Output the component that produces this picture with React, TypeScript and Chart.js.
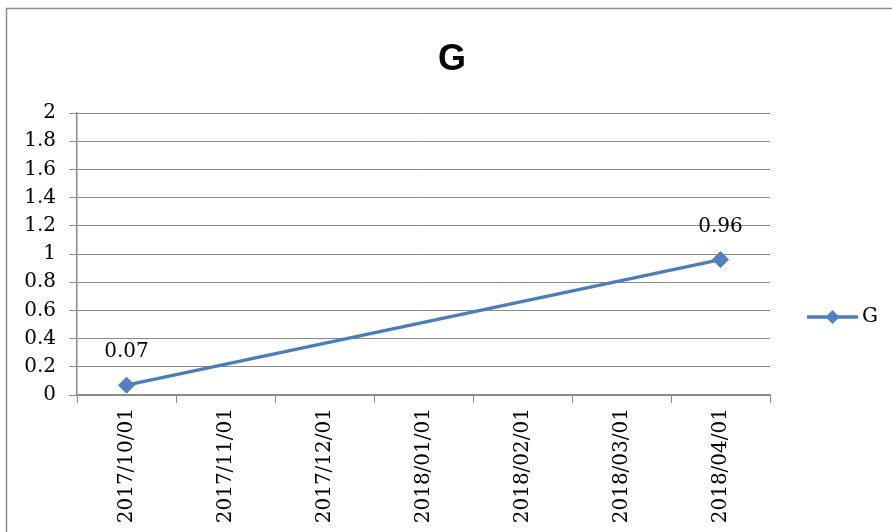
import React, { useEffect, useRef } from "react";
import { Chart, registerables } from "chart.js";

Chart.register(...registerables);

const categories = [
  "2017/10/01",
  "2017/11/01",
  "2017/12/01",
  "2018/01/01",
  "2018/02/01",
  "2018/03/01",
  "2018/04/01",
];
const seriesName = "G";
const seriesValues: (number | null)[] = [0.07, null, null, null, null, null, 0.96];
const yTickValues = [0, 0.2, 0.4, 0.6, 0.8, 1, 1.2, 1.4, 1.6, 1.8, 2];
const chartTitle = "G";

const LINE_COLOR = "#4A7EBB";
const MARKER_COLOR = "#4F81BD";
const GRID_COLOR = "#8a8a8a";
const SERIF = "'DejaVu Serif', serif";

const framePlugin = {
  id: "excelFrame",
  beforeDraw(chart: any) {
    const ctx = chart.ctx;
    ctx.save();
    ctx.fillStyle = "#ffffff";
    ctx.fillRect(0, 0, chart.width, chart.height);
    ctx.strokeStyle = "#8c8c8c";
    ctx.lineWidth = 1.5;
    ctx.strokeRect(6.5, 8.5, chart.width + 50, chart.height + 50);
    ctx.restore();
  },
};

const titlePlugin = {
  id: "excelTitle",
  afterDraw(chart: any) {
    const ctx = chart.ctx;
    ctx.save();
    ctx.fillStyle = "#000000";
    ctx.font = "bold 36px 'Liberation Sans', sans-serif";
    ctx.textAlign = "center";
    ctx.textBaseline = "alphabetic";
    ctx.fillText(chartTitle, 452, 70);
    ctx.restore();
  },
};

const dataLabelPlugin = {
  id: "excelDataLabels",
  afterDatasetsDraw(chart: any) {
    const ctx = chart.ctx;
    const meta = chart.getDatasetMeta(0);
    const data = chart.data.datasets[0].data;
    ctx.save();
    ctx.fillStyle = "#000000";
    ctx.font = `20px ${SERIF}`;
    ctx.textAlign = "center";
    ctx.textBaseline = "middle";
    meta.data.forEach((pt: any, i: number) => {
      const v = data[i];
      if (v === null || v === undefined) return;
      ctx.fillText(String(v), pt.x, pt.y - 33);
    });
    ctx.restore();
  },
};

const legendPlugin = {
  id: "excelLegend",
  afterDraw(chart: any) {
    const ctx = chart.ctx;
    const area = chart.chartArea;
    const x0 = area.right + 37;
    const x1 = area.right + 88;
    const y = 317;
    ctx.save();
    ctx.strokeStyle = LINE_COLOR;
    ctx.lineWidth = 3.5;
    ctx.beginPath();
    ctx.moveTo(x0, y);
    ctx.lineTo(x1, y);
    ctx.stroke();
    const cx = (x0 + x1) / 2;
    const r = 7;
    ctx.fillStyle = MARKER_COLOR;
    ctx.beginPath();
    ctx.moveTo(cx, y - r);
    ctx.lineTo(cx + r, y);
    ctx.lineTo(cx, y + r);
    ctx.lineTo(cx - r, y);
    ctx.closePath();
    ctx.fill();
    ctx.fillStyle = "#000000";
    ctx.font = `20px ${SERIF}`;
    ctx.textAlign = "left";
    ctx.textBaseline = "middle";
    ctx.fillText(seriesName, x1 + 4, y);
    ctx.restore();
  },
};

export default function App() {
  const canvasRef = useRef<HTMLCanvasElement | null>(null);

  useEffect(() => {
    if (!canvasRef.current) return;
    const chart = new Chart(canvasRef.current, {
      type: "line",
      data: {
        labels: categories,
        datasets: [
          {
            label: seriesName,
            data: seriesValues,
            borderColor: LINE_COLOR,
            backgroundColor: MARKER_COLOR,
            borderWidth: 3.5,
            pointStyle: "rectRot",
            pointRadius: 8,
            pointBorderWidth: 1,
            pointBorderColor: LINE_COLOR,
            pointBackgroundColor: MARKER_COLOR,
            spanGaps: true,
            tension: 0,
          },
        ],
      },
      options: {
        responsive: false,
        animation: false,
        events: [],
        layout: { padding: { left: 0, right: 122, top: 113, bottom: 0 } },
        plugins: {
          legend: { display: false },
          title: { display: false },
          tooltip: { enabled: false },
        },
        scales: {
          x: {
            type: "category",
            offset: true,
            border: { display: true, color: GRID_COLOR, width: 1.5 },
            grid: {
              display: true,
              offset: true,
              drawOnChartArea: false,
              drawTicks: true,
              tickLength: 8,
              color: GRID_COLOR,
              lineWidth: 1,
            },
            ticks: {
              minRotation: 90,
              maxRotation: 90,
              autoSkip: false,
              padding: 5,
              color: "#000000",
              font: { family: SERIF, size: 20 },
            },
            afterFit(scale: any) {
              scale.height = 137;
            },
          },
          y: {
            type: "linear",
            min: 0,
            max: 2,
            border: { display: true, color: GRID_COLOR, width: 1.5 },
            grid: {
              display: true,
              drawTicks: true,
              tickLength: 8,
              color: GRID_COLOR,
              lineWidth: 1,
            },
            afterBuildTicks(scale: any) {
              scale.ticks = yTickValues.map((v) => ({ value: v }));
            },
            ticks: {
              padding: 13,
              color: "#000000",
              font: { family: SERIF, size: 20 },
              callback: (v: any) => String(Math.round(Number(v) * 10) / 10),
            },
            afterFit(scale: any) {
              scale.width = 77;
            },
          },
        },
      },
      plugins: [framePlugin, titlePlugin, dataLabelPlugin, legendPlugin],
    } as any);
    return () => chart.destroy();
  }, []);

  return (
    <div style={{ position: "fixed", left: 0, top: 0, width: 892, height: 532, background: "#fff" }}>
      <canvas ref={canvasRef} width={892} height={532} style={{ display: "block", width: 892, height: 532 }} />
    </div>
  );
}
